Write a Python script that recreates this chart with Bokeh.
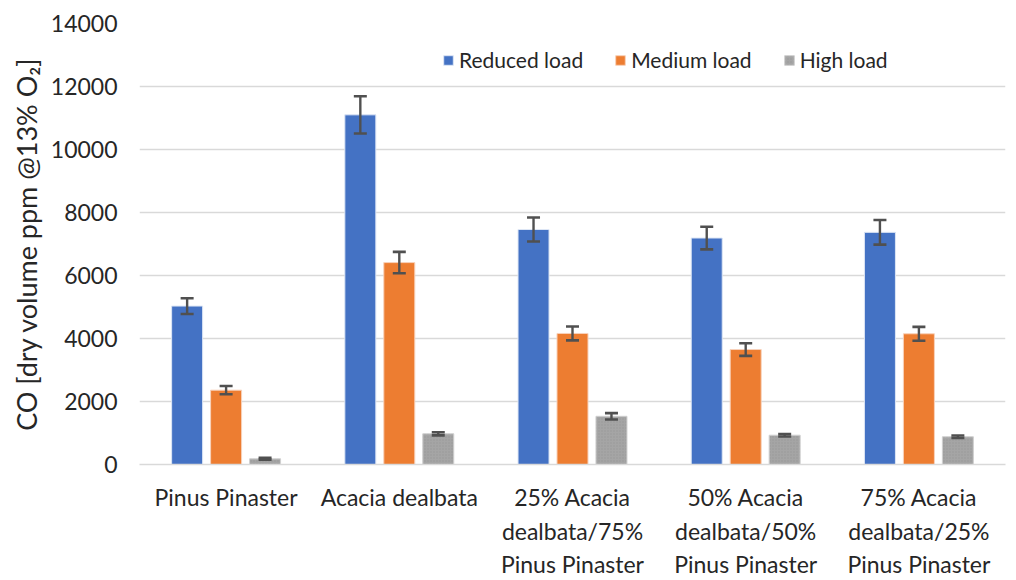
from bokeh.plotting import figure
from bokeh.models import ColumnDataSource, Range1d, FixedTicker, Whisker, TeeHead, Legend, LegendItem, LinearAxis
from bokeh.embed import file_html
from bokeh.resources import INLINE

categories = ["Pinus Pinaster", "Acacia dealbata", "25% Acacia\ndealbata/75%\nPinus Pinaster",
              "50% Acacia\ndealbata/50%\nPinus Pinaster", "75% Acacia\ndealbata/25%\nPinus Pinaster"]
series = ["Reduced load", "Medium load", "High load"]
reduced = [5030, 11100, 7460, 7190, 7370]
reduced_err = [250, 590, 380, 360, 390]
medium = [2360, 6410, 4160, 3650, 4150]
medium_err = [130, 340, 220, 200, 220]
high = [180, 975, 1530, 930, 880]
high_err = [30, 50, 100, 40, 40]

colors = ["#4472C4", "#ED7D31", "#A5A5A5"]
FONT = "Lato"
TXT = "#262626"

YMAX = 14000
p = figure(width=1016, height=580, output_backend="svg", toolbar_location=None,
           x_range=Range1d(-0.5, 4.5), y_range=Range1d(0, YMAX), x_axis_location=None,
           min_border_left=139, min_border_right=11, min_border_top=23, min_border_bottom=0)
p.outline_line_color = None
p.background_fill_color = "white"
p.border_fill_color = "white"

xs = list(range(len(categories)))
offsets = [-0.225, 0.0, 0.225]
vals = [reduced, medium, high]
errs = [reduced_err, medium_err, high_err]
bw = 0.179
renderers = []
for i in range(3):
    x = [c + offsets[i] for c in xs]
    src = ColumnDataSource(dict(x=x, top=vals[i],
                                upper=[v + e for v, e in zip(vals[i], errs[i])],
                                lower=[v - e for v, e in zip(vals[i], errs[i])]))
    kw = {}
    if i == 2:
        kw = dict(hatch_pattern="dot", hatch_color="#8c8c8c", hatch_scale=3, hatch_alpha=0.6)
    r = p.vbar(x="x", top="top", bottom=0, width=bw, source=src, fill_color=colors[i],
               line_color="#dde6f5" if i == 0 else ("#f8d2bb" if i == 1 else "#d0d0d0"), line_width=1, **kw)
    renderers.append(r)
    w = Whisker(base="x", upper="upper", lower="lower", source=src, line_color="#505050", line_width=2.4,
                level="overlay",
                upper_head=TeeHead(size=13, line_color="#505050", line_width=2.6),
                lower_head=TeeHead(size=13, line_color="#505050", line_width=2.6))
    p.add_layout(w)

# x axis: one stacked axis per text line of the category labels
split = [c.split("\n") for c in categories]
standoffs = [18, 3, 2]
for j in range(3):
    ax = LinearAxis(ticker=FixedTicker(ticks=xs),
                    major_label_overrides={i: (s[j] if j < len(s) else "") for i, s in enumerate(split)},
                    major_tick_line_color=None, minor_tick_line_color=None,
                    major_tick_out=0, major_tick_in=0, minor_tick_out=0, minor_tick_in=0,
                    axis_line_color="#d9d9d9" if j == 0 else None, axis_line_width=1.5,
                    major_label_text_font=FONT, major_label_text_font_size="23px",
                    major_label_text_color=TXT, major_label_standoff=standoffs[j],
                    major_label_orientation="horizontal")
    p.add_layout(ax, "below")
p.xgrid.grid_line_color = None

p.yaxis.ticker = FixedTicker(ticks=list(range(0, YMAX + 1, 2000)))
p.yaxis.major_tick_line_color = None
p.yaxis.minor_tick_line_color = None
p.yaxis.major_tick_out = 0
p.yaxis.major_tick_in = 0
p.yaxis.axis_line_color = None
p.yaxis.major_label_text_font = FONT
p.yaxis.major_label_text_font_size = "23px"
p.yaxis.major_label_text_color = TXT
p.yaxis.major_label_standoff = 22
p.yaxis.axis_label = "CO [dry volume ppm @13% O₂]"
p.yaxis.axis_label_text_font = FONT
p.yaxis.axis_label_text_font_size = "27px"
p.yaxis.axis_label_text_font_style = "normal"
p.yaxis.axis_label_text_color = TXT
p.yaxis.axis_label_standoff = 5
p.ygrid.grid_line_color = "#d9d9d9"
p.ygrid.grid_line_width = 1.5

legend = Legend(items=[LegendItem(label=s, renderers=[r]) for s, r in zip(series, renderers)],
                orientation="horizontal", location=(303, 392),
                label_text_font=FONT, label_text_font_size="21px", label_text_color=TXT,
                glyph_width=12, glyph_height=12, spacing=31, label_standoff=5,
                background_fill_alpha=0, border_line_color=None, padding=4, margin=0)
p.add_layout(legend)

open("out.html", "w").write(file_html(p, INLINE))
